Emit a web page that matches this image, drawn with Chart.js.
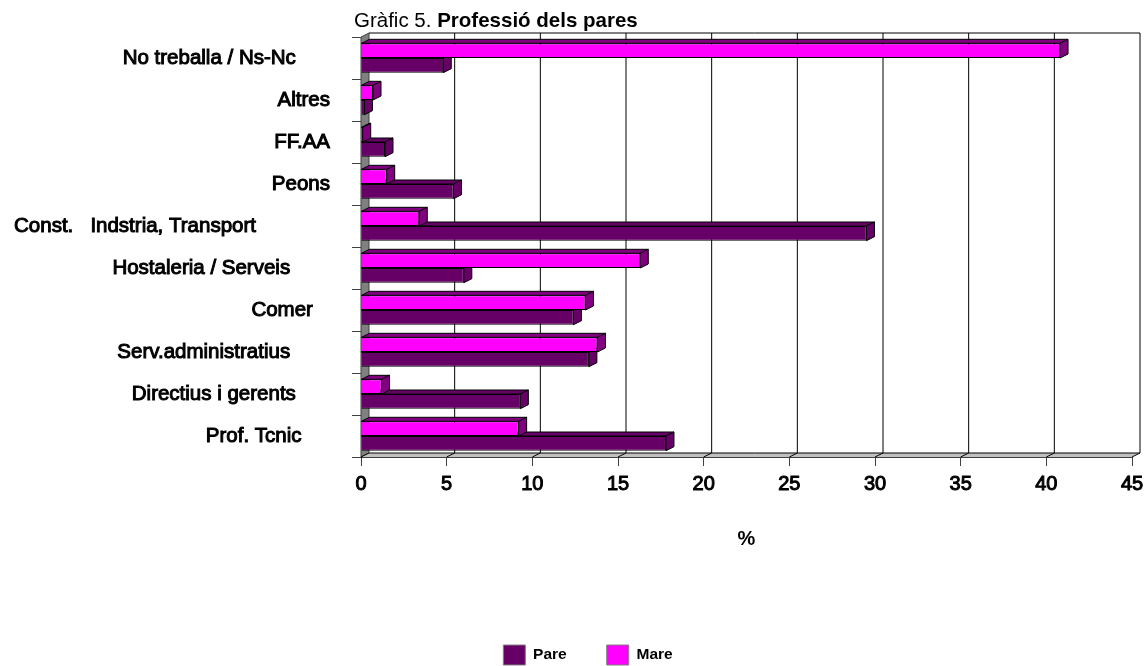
<!DOCTYPE html>
<html>
<head>
<meta charset="utf-8">
<title>Gràfic 5</title>
<script src="https://cdn.jsdelivr.net/npm/chart.js@4"></script>
<style>
  html, body { margin: 0; padding: 0; background: #fff; }
  #wrap { position: relative; width: 1144px; height: 666px; overflow: hidden; }
  #chart { display: block; }
  #title { position: absolute; left: 354px; top: 8px; font: 20.5px "Liberation Sans", Arial, sans-serif; color: #000; white-space: nowrap; }
</style>
</head>
<body>
<div id="wrap">
  <div id="title">Gràfic 5. <b>Professió dels pares</b></div>
  <canvas id="chart" width="1144" height="666"></canvas>
</div>
<script>
// Etiquetes: els espais del final venen de l'original i marquen on acaba cada text
const categories = [
  'No treballa / Ns-Nc      ',
  'Altres',
  'FF.AA',
  'Peons',
  'Const.   Indstria, Transport             ',
  'Hostaleria / Serveis       ',
  'Comer   ',
  'Serv.administratius       ',
  'Directius i gerents      ',
  'Prof. Tcnic     '
];
const pare = [4.8, 0.2, 1.4, 5.4, 29.5, 6.0, 12.4, 13.3, 9.3, 17.8];
const mare = [40.8, 0.7, 0.1, 1.5, 3.4, 16.3, 13.1, 13.8, 1.2, 9.2];

const DEPTH_X = 8;
const DEPTH_Y = 4;
const FONT = '"Liberation Sans", Arial, sans-serif';

function poly(ctx, points, fill, stroke) {
  ctx.beginPath();
  points.forEach((p, i) => (i ? ctx.lineTo(p[0], p[1]) : ctx.moveTo(p[0], p[1])));
  ctx.closePath();
  ctx.fillStyle = fill;
  ctx.fill();
  if (stroke) {
    ctx.strokeStyle = stroke;
    ctx.lineWidth = 1;
    ctx.stroke();
  }
}

// Parets de fons i terra de l'efecte 3D
const walls = {
  id: 'walls',
  afterLayout(chart) {
    // la llegenda no va centrada sobre el llenç
    chart.legend.left += 15;
    chart.legend.right += 15;
  },
  beforeDatasetsDraw(chart) {
    const { ctx, chartArea: a, scales } = chart;
    ctx.save();
    poly(ctx, [[a.left, a.top], [a.left + DEPTH_X, a.top - DEPTH_Y], [a.left + DEPTH_X, a.bottom - DEPTH_Y], [a.left, a.bottom]], '#808080', '#404040');
    poly(ctx, [[a.left, a.bottom], [a.left + DEPTH_X, a.bottom - DEPTH_Y], [a.right + DEPTH_X, a.bottom - DEPTH_Y], [a.right, a.bottom]], '#c0c0c0');

    ctx.strokeStyle = '#000';
    ctx.lineWidth = 1;
    scales.x.ticks.forEach(t => {
      const x = scales.x.getPixelForValue(t.value);
      ctx.beginPath();
      ctx.moveTo(x, a.bottom);
      ctx.lineTo(x + DEPTH_X, a.bottom - DEPTH_Y);
      if (t.value > 0) ctx.lineTo(x + DEPTH_X, a.top - DEPTH_Y);
      ctx.stroke();
    });
    ctx.beginPath();
    ctx.moveTo(a.left + DEPTH_X, a.top - DEPTH_Y);
    ctx.lineTo(a.right + DEPTH_X, a.top - DEPTH_Y);
    ctx.moveTo(a.left + DEPTH_X, a.bottom - DEPTH_Y);
    ctx.lineTo(a.right + DEPTH_X, a.bottom - DEPTH_Y);
    ctx.stroke();
    ctx.restore();
  },
  // cara superior i lateral de cada barra, abans de la cara frontal
  beforeDatasetDraw(chart, args) {
    const { ctx } = chart;
    const meta = chart.getDatasetMeta(args.index);
    const shade = chart.data.datasets[args.index].sideColor;
    ctx.save();
    meta.data.forEach(bar => {
      const { x, y, base, height } = bar.getProps(['x', 'y', 'base', 'height']);
      const top = y - height / 2;
      const bottom = y + height / 2;
      poly(ctx, [[base, top], [base + DEPTH_X, top - DEPTH_Y], [x + DEPTH_X, top - DEPTH_Y], [x, top]], shade, '#000');
      poly(ctx, [[x, top], [x + DEPTH_X, top - DEPTH_Y], [x + DEPTH_X, bottom - DEPTH_Y], [x, bottom]], shade, '#000');
    });
    ctx.restore();
  }
};

new Chart(document.getElementById('chart'), {
  type: 'bar',
  data: {
    labels: categories,
    datasets: [
      { label: 'Pare', data: pare, order: 2, backgroundColor: '#660066', sideColor: '#660066', borderColor: '#000', borderWidth: 1 },
      { label: 'Mare', data: mare, order: 1, backgroundColor: '#ff00ff', sideColor: '#800080', borderColor: '#000', borderWidth: 1 }
    ]
  },
  plugins: [walls],
  options: {
    indexAxis: 'y',
    responsive: false,
    animation: false,
    categoryPercentage: 0.7,
    barPercentage: 1,
    layout: { padding: { left: 14, right: 12, top: 37, bottom: -9 } },
    scales: {
      x: {
        min: 0,
        max: 45,
        ticks: { stepSize: 5, color: '#000', padding: 6, maxRotation: 0, textStrokeWidth: 1, textStrokeColor: '#000', font: { family: FONT, size: 20 } },
        grid: { drawOnChartArea: false, tickLength: 9, tickColor: '#404040' },
        border: { color: '#404040' },
        title: { display: true, text: '%', color: '#000', padding: { top: 30, bottom: 54 }, font: { family: FONT, size: 20, weight: 'bold' } },
        afterFit(scale) {
          scale.height = 148;
          scale.paddingLeft = 0;
          scale.paddingRight = 0;
        }
      },
      y: {
        ticks: { color: '#000', padding: 22, autoSkip: false, textStrokeWidth: 1, textStrokeColor: '#000', font: { family: FONT, size: 20.5 } },
        grid: { drawOnChartArea: false, tickLength: 9, tickColor: '#404040' },
        border: { color: '#000' },
        afterFit(scale) { scale.width = 347; }
      }
    },
    plugins: {
      tooltip: { enabled: false },
      legend: {
        position: 'bottom',
        labels: {
          boxWidth: 22,
          boxHeight: 20,
          padding: 40,
          color: '#000',
          font: { family: FONT, size: 15.5, weight: 'bold' },
          sort: (a, b) => a.datasetIndex - b.datasetIndex,
          generateLabels(chart) {
            return Chart.defaults.plugins.legend.labels.generateLabels(chart).map(item => ({ ...item, strokeStyle: '#808080', lineWidth: 1 }));
          }
        }
      }
    }
  }
});
</script>
</body>
</html>
